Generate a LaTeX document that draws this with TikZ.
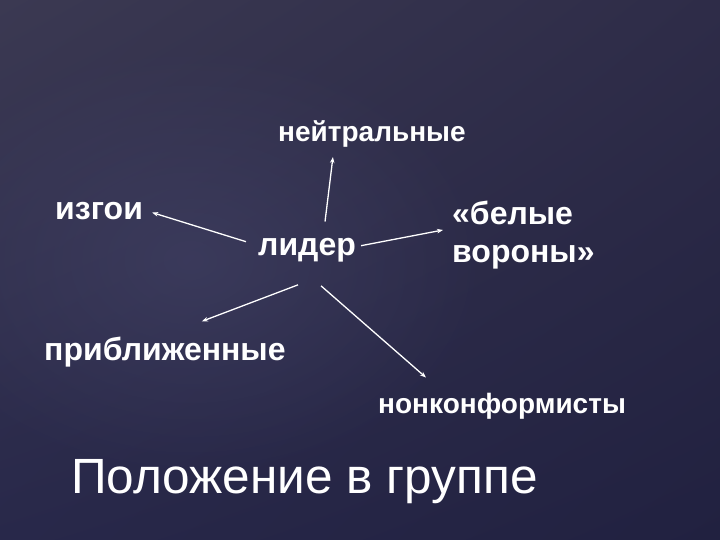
\documentclass[tikz,border=0pt]{standalone}
\usepackage{fontspec}
\setmainfont{Liberation Sans}
\usetikzlibrary{arrows.meta,fadings,shadings}

\definecolor{bgul}{RGB}{59,57,82}
\definecolor{bgur}{RGB}{46,44,72}
\definecolor{bgll}{RGB}{40,40,74}
\definecolor{bglr}{RGB}{33,33,64}
\definecolor{bgglow}{RGB}{68,68,104}

\tikzfading[name=softglow, inner color=transparent!0, outer color=transparent!100]

\tikzset{
  lbl/.style={text=white, inner sep=2pt, anchor=base west,
    font=\fontsize{32}{38}\selectfont\bfseries},
  lblsmall/.style={lbl, font=\fontsize{28}{34}\selectfont\bfseries},
  arr/.style={white, line width=1.3pt, -{Stealth[length=6pt,width=4.5pt]}}
}

\begin{document}
\begin{tikzpicture}[x=1pt, y=-1pt]
    % Background
    \useasboundingbox (0,0) rectangle (720,540);
    \shade[upper left=bgul, upper right=bgur, lower left=bgll, lower right=bglr]
        (0,0) rectangle (720,540);
    \fill[bgglow, opacity=0.55, path fading=softglow]
        (190,260) ellipse (300 and 220);

    % Labels
    \node[lblsmall] (neutral) at (276,142) {нейтральные};
    \node[lbl] (izgoi) at (53,220) {изгои};
    \node[lbl] (lider) at (256,255) {лидер};
    \node[lbl, anchor=west, align=left] (belye) at (450,235) {«белые\\вороны»};
    \node[lbl] (prib) at (42,360) {приближенные};
    \node[lblsmall] (nonkonf) at (376,413) {нонконформисты};

    % Title
    \node[text=white, inner sep=0pt, anchor=base west,
        font=\fontsize{49.5}{58}\selectfont] (title) at (71,493) {Положение в группе};

    % Arrows from the leader
    \draw[arr] ([shift={(-10,-8)}]lider.west) -- ([shift={(7,1)}]izgoi.east);
    \draw[arr] ([shift={(18,-14)}]lider.north) -- ([shift={(-39,7)}]neutral.south);
    \draw[arr] ([shift={(3,-4)}]lider.east) -- ([shift={(-7,-5)}]belye.west);
    \draw[arr] ([shift={(-9,21)}]lider.south) -- ([shift={(37,-13)}]prib.north);
    \draw[arr] ([shift={(14,22)}]lider.south) -- ([shift={(50,-13)}]nonkonf.north west);
\end{tikzpicture}
\end{document}
